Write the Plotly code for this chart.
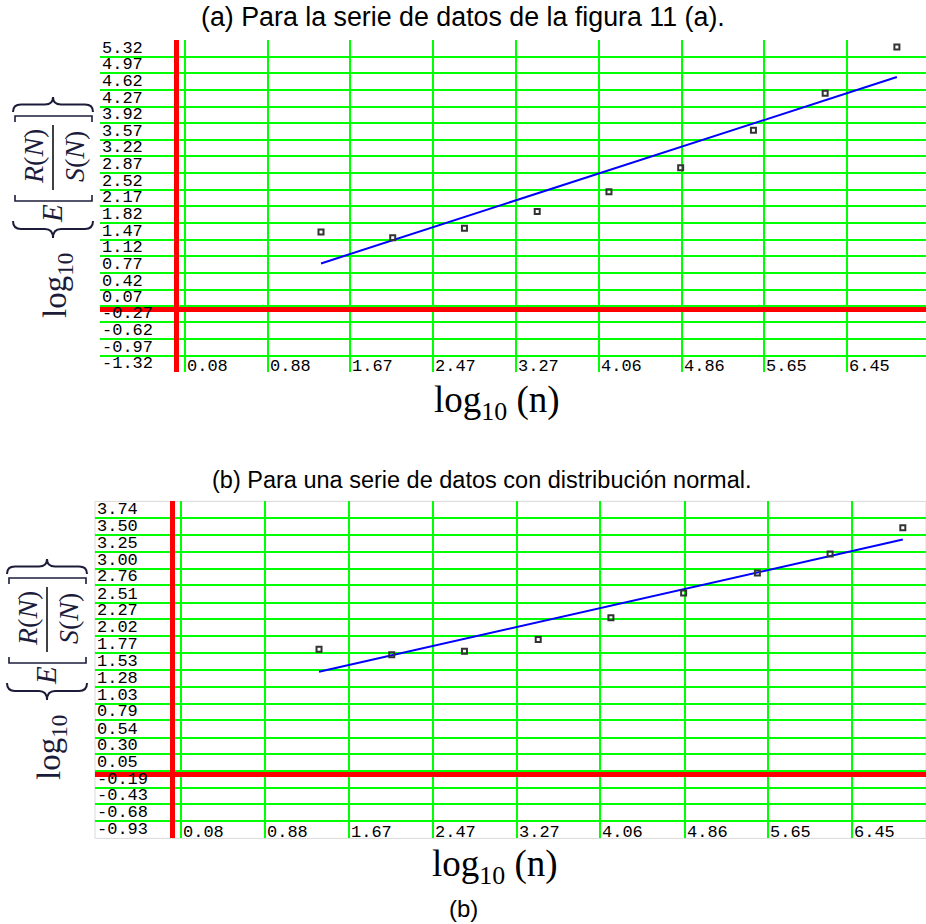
import plotly.graph_objects as go

W, H = 926, 924

# ---------------- data ----------------
ln_n = [1.39, 2.08, 2.77, 3.47, 4.16, 4.85, 5.55, 6.24, 6.93]
rs_a = [1.63, 1.51, 1.71, 2.06, 2.48, 2.98, 3.77, 4.55, 5.52]
rs_b = [1.83, 1.75, 1.80, 1.97, 2.29, 2.65, 2.94, 3.22, 3.60]
fit_x = [1.39, 6.93]
fit_a = [0.97, 4.89]
fit_b = [1.50, 3.43]

x_ticks = [0.08, 0.88, 1.67, 2.47, 3.27, 4.06, 4.86, 5.65, 6.45]
y_ticks_a = [5.32, 4.97, 4.62, 4.27, 3.92, 3.57, 3.22, 2.87, 2.52, 2.17,
             1.82, 1.47, 1.12, 0.77, 0.42, 0.07, -0.27, -0.62, -0.97, -1.32]
y_ticks_b = [3.74, 3.50, 3.25, 3.00, 2.76, 2.51, 2.27, 2.02, 1.77, 1.53,
             1.28, 1.03, 0.79, 0.54, 0.30, 0.05, -0.19, -0.43, -0.68, -0.93]

title_a = "(a) Para la serie de datos de la figura 11 (a)."
title_b = "(b) Para una serie de datos con distribución normal."
caption = "(b)"

GREEN = "rgb(0,255,0)"
RED = "rgb(255,0,0)"
BLUE = "rgb(0,0,255)"
INK = "#1c1c3a"
TICKFONT = dict(family="Liberation Mono", size=17, color="black")


def px(x):
    return x / W


def py(y):
    return 1 - y / H


fig = go.Figure()

for xa, ya, ys, fit in (("x", "y", rs_a, fit_a), ("x2", "y2", rs_b, fit_b)):
    fig.add_trace(go.Scatter(x=fit_x, y=fit, mode="lines", xaxis=xa, yaxis=ya,
                             line=dict(color=BLUE, width=2), showlegend=False,
                             hoverinfo="skip"))
    fig.add_trace(go.Scatter(x=ln_n, y=ys, mode="markers", xaxis=xa, yaxis=ya,
                             marker=dict(symbol="square-open", size=5,
                                         color="#333333", line=dict(width=2)),
                             showlegend=False))


def axis_cfg(domain, rng, anchor, ticks):
    return dict(domain=domain, range=rng, anchor=anchor,
                tickvals=ticks, showticklabels=False, ticks="",
                showgrid=True, gridcolor=GREEN, gridwidth=2,
                zeroline=True, zerolinecolor=RED, zerolinewidth=5,
                showline=False, fixedrange=True)


fig.update_layout(
    width=W, height=H,
    margin=dict(l=0, r=0, t=0, b=0),
    paper_bgcolor="white", plot_bgcolor="white",
    xaxis=axis_cfg([px(100), 1], [-0.736, 7.21], "y", x_ticks),
    yaxis=axis_cfg([py(372.3), py(40)], [-1.32, 5.6695], "x", y_ticks_a),
    xaxis2=axis_cfg([px(95), 1], [-0.736, 7.15], "y2", x_ticks),
    yaxis2=axis_cfg([py(838.4), py(501.4)], [-0.93, 3.986], "x2", y_ticks_b),
)

annotations = []
shapes = []

# tick labels: y labels sit just above their grid line, x labels just right of theirs
for xa, ya, yt in (("x", "y", y_ticks_a), ("x2", "y2", y_ticks_b)):
    for v in yt:
        annotations.append(dict(text=f"{v:.2f}", x=0, y=v, xref=f"{xa} domain", yref=ya,
                                xanchor="left", yanchor="bottom", xshift=0, yshift=-3,
                                showarrow=False, font=TICKFONT))
    for v in x_ticks:
        annotations.append(dict(text=f"{v:.2f}", x=v, y=0, xref=xa, yref=f"{ya} domain",
                                xanchor="left", yanchor="bottom", xshift=0, yshift=-6,
                                showarrow=False, font=TICKFONT))


def ann(text, x, y, size, family="Liberation Serif", angle=0, color="black"):
    annotations.append(dict(text=text, x=px(x), y=py(y), xref="paper", yref="paper",
                            xanchor="center", yanchor="middle", showarrow=False,
                            textangle=angle, font=dict(family=family, size=size, color=color)))


def path(points_cmds):
    out = []
    for cmd, pts in points_cmds:
        coords = " ".join(f"{px(a):.5f},{py(b):.5f}" for a, b in pts)
        out.append(f"{cmd} {coords}")
    return " ".join(out)


def add_path(d, width=1.6):
    shapes.append(dict(type="path", xref="paper", yref="paper", path=d,
                       line=dict(color=INK, width=width)))


def brace(x0, x1, y_end, y_mid, y_tip):
    xc = (x0 + x1) / 2
    r = 8
    return path([
        ("M", [(x0, y_end)]),
        ("Q", [(x0, y_mid), (x0 + r, y_mid)]),
        ("L", [(xc - r, y_mid)]),
        ("Q", [(xc, y_mid), (xc, y_tip)]),
        ("Q", [(xc, y_mid), (xc + r, y_mid)]),
        ("L", [(x1 - r, y_mid)]),
        ("Q", [(x1, y_mid), (x1, y_end)]),
    ])


def bracket(x0, x1, y_stem, y_tick):
    return path([("M", [(x0, y_tick)]), ("L", [(x0, y_stem)]),
                 ("L", [(x1, y_stem)]), ("L", [(x1, y_tick)])])


# titles
ann(title_a, 463, 17, 26.8, family="Liberation Sans")
ann(title_b, 482, 480, 23.5, family="Liberation Sans")
ann(caption, 463, 908, 24, family="Liberation Sans")

# x axis titles
ann("log<sub>10</sub> (n)", 497, 402, 37)
ann("log<sub>10</sub> (n)", 495, 866, 37)


def ytitle(dx, dy):
    ann("log<sub>10</sub>", 57 + dx, 286 + dy, 33, angle=-90, color=INK)
    ann("<i>E</i>", 52 + dx, 214 + dy, 29, angle=-90, color=INK)
    ann("<i>R</i>(<i>N</i>)", 33 + dx, 157 + dy, 28, angle=-90, color=INK)
    ann("<i>S</i>(<i>N</i>)", 74 + dx, 157 + dy, 28, angle=-90, color=INK)
    # closing brace (top), opening brace (bottom)
    add_path(brace(13 + dx, 93 + dx, 112 + dy, 104.5 + dy, 97 + dy), 2)
    add_path(brace(13 + dx, 93 + dx, 221 + dy, 229 + dy, 238 + dy), 2)
    # square brackets
    add_path(bracket(15 + dx, 92 + dx, 116 + dy, 122 + dy), 1.6)
    add_path(bracket(15 + dx, 92 + dx, 201 + dy, 195 + dy), 1.6)
    # fraction bar
    shapes.append(dict(type="line", xref="paper", yref="paper",
                       x0=px(53 + dx), x1=px(53 + dx), y0=py(125 + dy), y1=py(190 + dy),
                       line=dict(color="black", width=1.5)))


ytitle(0, 0)
ytitle(-6, 462)

# light frame around the lower plot
shapes.append(dict(type="rect", xref="paper", yref="paper", layer="below",
                   x0=px(95), x1=1, y0=py(838.4), y1=py(501.4),
                   line=dict(color="#d9d9d9", width=1)))

fig.update_layout(annotations=annotations, shapes=shapes)

fig.write_html("out.html", config={"displayModeBar": False},
               post_script="document.body.style.margin='0px';")
